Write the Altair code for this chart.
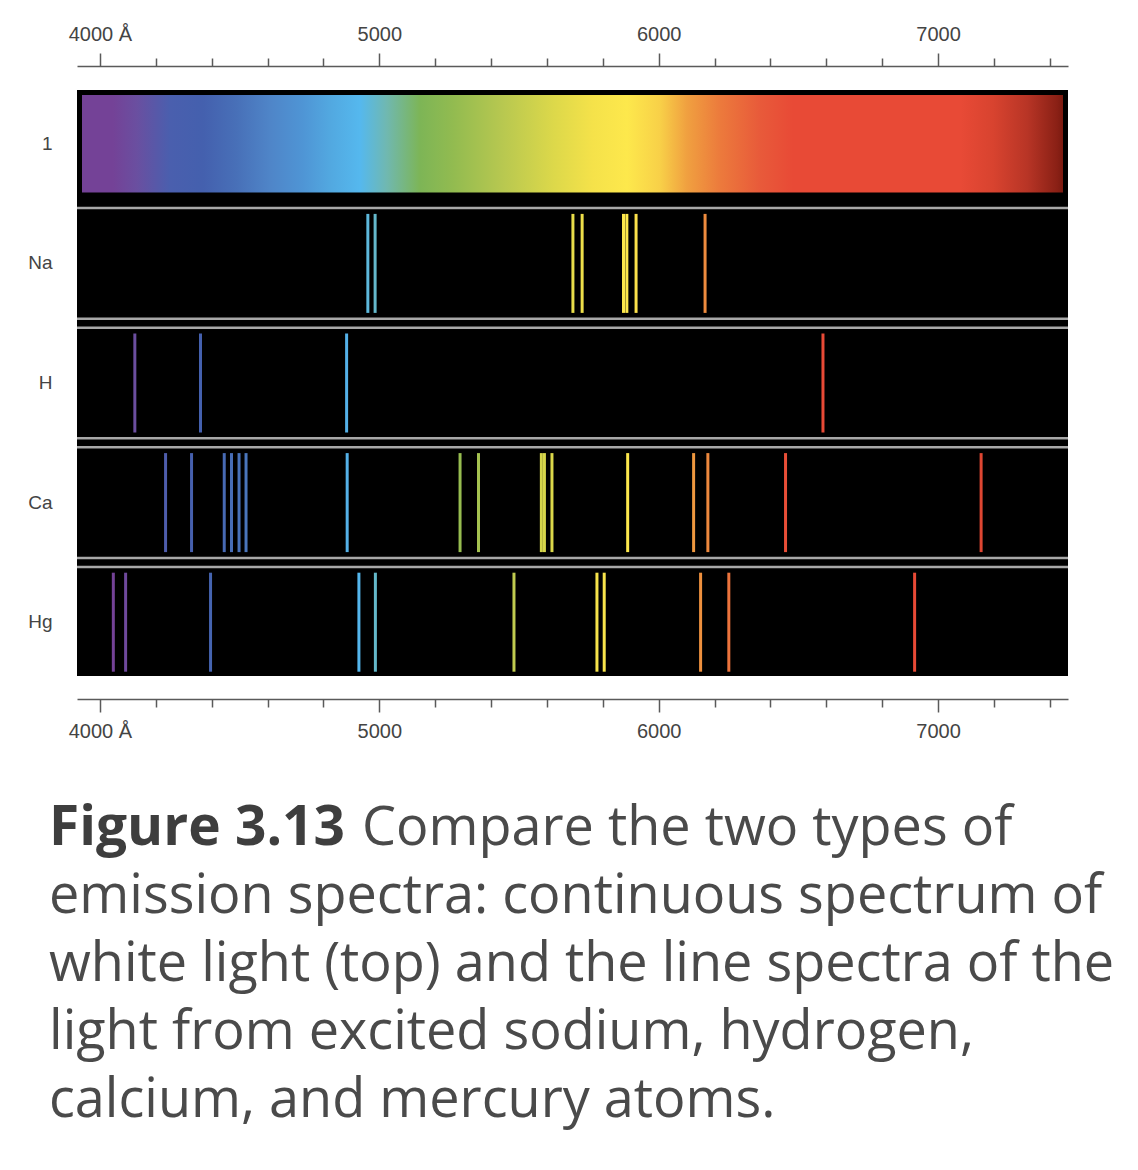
import altair as alt
import pandas as pd

# ---------------- data ----------------
rows = ["1", "Na", "H", "Ca", "Hg"]

na_lines = [4959, 4985, 5693, 5726, 5874, 5886, 5919, 6166]
h_lines = [4125, 4360, 4883, 6588]
ca_lines = [4235, 4328, 4445, 4471, 4498, 4523, 4885, 5289, 5355, 5580, 5591,
            5618, 5889, 6125, 6176, 6454, 7154]
hg_lines = [4048, 4092, 4396, 4927, 4986, 5482, 5779, 5805, 6150, 6251, 6916]

# continuous spectrum colour stops (wavelength in Å, colour)
spectrum_wavelengths = [3928, 4047, 4132, 4251, 4369, 4490, 4609, 4727, 4823,
                        4931, 5027, 5146, 5264, 5443, 5622, 5765, 5887, 6005,
                        6101, 6220, 6363, 6481, 7079, 7197, 7319, 7426, 7448]
spectrum_colors = ["#744297", "#744297", "#6a4fa0", "#4a5fae", "#4460ae",
                   "#4870b8", "#4f85c8", "#4f95d5", "#52a8e0", "#55b8ee",
                   "#70b8b0", "#7db556", "#92bb50", "#b8c850", "#dcd84a",
                   "#f5e24a", "#fde84c", "#f8d048", "#f0a040", "#ec7a3c",
                   "#e85a3a", "#e84a36", "#e84a36", "#d8432f", "#b83526",
                   "#8a2015", "#7a1a10"]

tick_values = list(range(4000, 7401, 200))
x_domain = [3918, 7465]

caption_bold = "Figure 3.13"
caption_first = "Compare the two types of"
caption_lines = [
    "emission spectra: continuous spectrum of",
    "white light (top) and the line spectra of the",
    "light from excited sodium, hydrogen,",
    "calcium, and mercury atoms.",
]

# ---------------- tables ----------------
lines_df = pd.DataFrame(
    [{"row": r, "wl": w}
     for r, ws in [("Na", na_lines), ("H", h_lines), ("Ca", ca_lines), ("Hg", hg_lines)]
     for w in ws]
)
cont_df = pd.DataFrame({"row": ["1"], "start": [x_domain[0]], "end": [x_domain[1]]})
sep_top_df = pd.DataFrame({"row": rows[1:]})
sep_bot_df = pd.DataFrame({"row": rows[1:-1]})

span = x_domain[1] - x_domain[0]
stops = [alt.GradientStop(offset=(w - x_domain[0]) / span, color=c)
         for w, c in zip(spectrum_wavelengths, spectrum_colors)]
gradient = alt.Gradient(gradient="linear", stops=stops, x1=0, x2=1, y1=0, y2=0)

# ---------------- scales / axes ----------------
xscale = alt.Scale(domain=x_domain, nice=False, zero=False)
yscale = alt.Scale(domain=rows, paddingInner=0.1003, paddingOuter=0)
color_scale = alt.Scale(domain=spectrum_wavelengths, range=spectrum_colors, interpolate="rgb")

label_expr = ("datum.value % 1000 === 0 ? (datum.value === 4000 ? datum.label + ' Å' : datum.label) : ''")
axis_common = dict(
    title=None, values=tick_values, format="d", labelExpr=label_expr, grid=False,
    domainColor="#5a5a5a", domainWidth=1.5, tickColor="#5a5a5a", tickWidth=1.5,
    tickSize={"condition": {"test": "datum.value % 1000 === 0", "value": 13}, "value": 8},
    labelFont="Liberation Sans", labelFontSize=20, labelColor="#444444",
    labelPadding=9, labelFlush=False, labelOverlap=False,
)
top_axis = alt.Axis(orient="top", offset=24, **axis_common)
bottom_axis = alt.Axis(orient="bottom", offset=23, **axis_common)
yaxis = alt.Axis(title=None, ticks=False, domain=False, labelPadding=25,
                 labelFont="Liberation Sans", labelFontSize=19, labelColor="#444444")

# ---------------- layers ----------------
continuous = alt.Chart(cont_df).mark_rect(
    fill=gradient, stroke="black", strokeWidth=10, clip=True
).encode(
    x=alt.X("start:Q", scale=xscale, axis=top_axis),
    x2="end:Q",
    y=alt.Y("row:N", scale=yscale, axis=yaxis),
)

sep_top = alt.Chart(sep_top_df).mark_rule(color="#a8a8a8", strokeWidth=2.5, yOffset=-1.5).encode(
    y=alt.Y("row:N", scale=yscale, axis=yaxis, bandPosition=0),
)
sep_bot = alt.Chart(sep_bot_df).mark_rule(color="#a8a8a8", strokeWidth=2.5, yOffset=1.5).encode(
    y=alt.Y("row:N", scale=yscale, axis=yaxis, bandPosition=1),
)

emission = alt.Chart(lines_df).mark_tick(thickness=3, size=99, opacity=1).encode(
    x=alt.X("wl:Q", scale=xscale, axis=bottom_axis),
    y=alt.Y("row:N", scale=yscale, axis=yaxis),
    color=alt.Color("wl:Q", scale=color_scale, legend=None),
)

one = pd.DataFrame({"k": [0]})
cap_font = "Open Sans"
cap_size = 54
cap_color = "#4a4a4a"
cap_x = -28
cap_y0 = 755
cap_dy = 68

caption_layers = [
    alt.Chart(one).mark_text(font=cap_font, fontSize=55, fontWeight="bold", color="#3e3e3e",
                             align="left", baseline="alphabetic").encode(
        x=alt.value(cap_x), y=alt.value(cap_y0), text=alt.value(caption_bold)),
    alt.Chart(one).mark_text(font=cap_font, fontSize=cap_size, color=cap_color,
                             align="left", baseline="alphabetic").encode(
        x=alt.value(285), y=alt.value(cap_y0), text=alt.value(caption_first)),
]
for i, line in enumerate(caption_lines):
    caption_layers.append(
        alt.Chart(one).mark_text(font=cap_font, fontSize=cap_size, color=cap_color,
                                 align="left", baseline="alphabetic").encode(
            x=alt.value(cap_x), y=alt.value(cap_y0 + cap_dy * (i + 1)), text=alt.value(line))
    )

chart = alt.layer(continuous, sep_top, sep_bot, emission, *caption_layers).resolve_axis(
    x="independent"
).properties(
    width=991, height=586,
    autosize=alt.AutoSizeParams(type="none"),
    padding={"left": 69, "top": 82, "right": 50, "bottom": 470},
    background="white",
).configure_view(fill="black", stroke=None)

chart.save("out.html", embed_options={"renderer": "svg", "actions": False})
